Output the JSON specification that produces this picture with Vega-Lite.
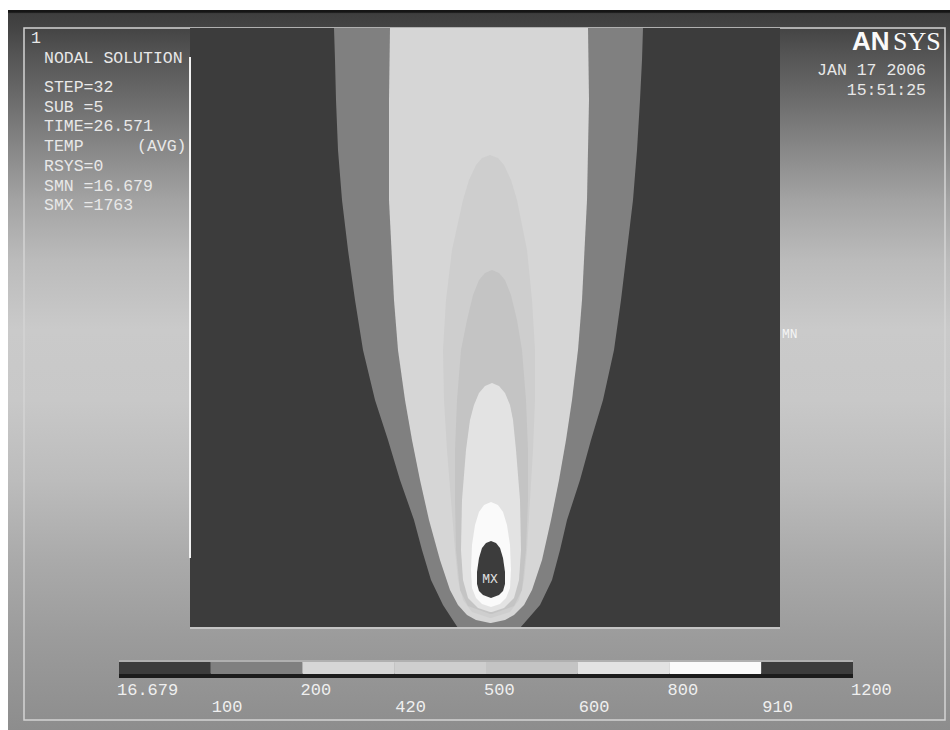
{
  "$schema": "https://vega.github.io/schema/vega-lite/v6.json",
  "width": 950,
  "height": 730,
  "autosize": {"type": "none"},
  "padding": 0,
  "background": "#ffffff",
  "config": {"view": {"stroke": null}, "axis": {"disable": true}},
  "datasets": {
    "screen": [{"x0": 8, "x1": 950, "y0": 10, "y1": 730}],
    "border": [{"x0": 24, "x1": 945, "y0": 28, "y1": 720}],
    "plate": [{"b": "16.679-100", "x0": 190, "x1": 780, "y0": 28, "y1": 628}],
    "edgeBottom": [{"x0": 190, "x1": 780, "y": 628}],
    "edgeLeft": [{"x": 190, "y0": 57, "y1": 558}],
    "contour": [
      {"b": "100-200", "y": 28, "xl": 334, "xr": 643},
      {"b": "100-200", "y": 60, "xl": 335, "xr": 642},
      {"b": "100-200", "y": 100, "xl": 336, "xr": 640},
      {"b": "100-200", "y": 150, "xl": 338, "xr": 637},
      {"b": "100-200", "y": 200, "xl": 342, "xr": 633},
      {"b": "100-200", "y": 250, "xl": 348, "xr": 627},
      {"b": "100-200", "y": 300, "xl": 355, "xr": 621},
      {"b": "100-200", "y": 350, "xl": 363, "xr": 614},
      {"b": "100-200", "y": 400, "xl": 375, "xr": 603},
      {"b": "100-200", "y": 440, "xl": 388, "xr": 591},
      {"b": "100-200", "y": 480, "xl": 400, "xr": 580},
      {"b": "100-200", "y": 520, "xl": 414, "xr": 567},
      {"b": "100-200", "y": 550, "xl": 422, "xr": 560},
      {"b": "100-200", "y": 580, "xl": 431, "xr": 552},
      {"b": "100-200", "y": 605, "xl": 443, "xr": 540},
      {"b": "100-200", "y": 628, "xl": 458, "xr": 520},
      {"b": "200-420", "y": 28, "xl": 390, "xr": 588},
      {"b": "200-420", "y": 100, "xl": 389, "xr": 589},
      {"b": "200-420", "y": 200, "xl": 389, "xr": 587},
      {"b": "200-420", "y": 300, "xl": 394, "xr": 582},
      {"b": "200-420", "y": 350, "xl": 398, "xr": 578},
      {"b": "200-420", "y": 400, "xl": 405, "xr": 572},
      {"b": "200-420", "y": 440, "xl": 412, "xr": 566},
      {"b": "200-420", "y": 480, "xl": 420, "xr": 559},
      {"b": "200-420", "y": 520, "xl": 429, "xr": 551},
      {"b": "200-420", "y": 560, "xl": 440, "xr": 542},
      {"b": "200-420", "y": 590, "xl": 450, "xr": 532},
      {"b": "200-420", "y": 605, "xl": 458, "xr": 524},
      {"b": "200-420", "y": 615, "xl": 467, "xr": 514},
      {"b": "200-420", "y": 620, "xl": 476, "xr": 505},
      {"b": "200-420", "y": 623, "xl": 490, "xr": 491},
      {"b": "420-500", "y": 155, "xl": 490, "xr": 490},
      {"b": "420-500", "y": 158, "xl": 482, "xr": 498},
      {"b": "420-500", "y": 165, "xl": 476, "xr": 504},
      {"b": "420-500", "y": 180, "xl": 469, "xr": 511},
      {"b": "420-500", "y": 200, "xl": 463, "xr": 517},
      {"b": "420-500", "y": 250, "xl": 452, "xr": 527},
      {"b": "420-500", "y": 300, "xl": 446, "xr": 532},
      {"b": "420-500", "y": 350, "xl": 443, "xr": 535},
      {"b": "420-500", "y": 400, "xl": 444, "xr": 535},
      {"b": "420-500", "y": 450, "xl": 447, "xr": 533},
      {"b": "420-500", "y": 500, "xl": 451, "xr": 530},
      {"b": "420-500", "y": 550, "xl": 455, "xr": 527},
      {"b": "420-500", "y": 580, "xl": 458, "xr": 524},
      {"b": "420-500", "y": 600, "xl": 463, "xr": 519},
      {"b": "420-500", "y": 612, "xl": 472, "xr": 510},
      {"b": "420-500", "y": 618, "xl": 490, "xr": 491},
      {"b": "500-600", "y": 270, "xl": 492, "xr": 492},
      {"b": "500-600", "y": 273, "xl": 485, "xr": 499},
      {"b": "500-600", "y": 280, "xl": 479, "xr": 505},
      {"b": "500-600", "y": 295, "xl": 473, "xr": 511},
      {"b": "500-600", "y": 320, "xl": 467, "xr": 517},
      {"b": "500-600", "y": 350, "xl": 461, "xr": 522},
      {"b": "500-600", "y": 400, "xl": 457, "xr": 526},
      {"b": "500-600", "y": 450, "xl": 455, "xr": 528},
      {"b": "500-600", "y": 500, "xl": 455, "xr": 528},
      {"b": "500-600", "y": 550, "xl": 456, "xr": 526},
      {"b": "500-600", "y": 590, "xl": 460, "xr": 522},
      {"b": "500-600", "y": 606, "xl": 468, "xr": 514},
      {"b": "500-600", "y": 614, "xl": 490, "xr": 492},
      {"b": "600-800", "y": 383, "xl": 492, "xr": 492},
      {"b": "600-800", "y": 386, "xl": 485, "xr": 499},
      {"b": "600-800", "y": 393, "xl": 479, "xr": 505},
      {"b": "600-800", "y": 405, "xl": 474, "xr": 510},
      {"b": "600-800", "y": 420, "xl": 470, "xr": 513},
      {"b": "600-800", "y": 450, "xl": 466, "xr": 516},
      {"b": "600-800", "y": 500, "xl": 462, "xr": 520},
      {"b": "600-800", "y": 550, "xl": 461, "xr": 521},
      {"b": "600-800", "y": 580, "xl": 463, "xr": 519},
      {"b": "600-800", "y": 598, "xl": 468, "xr": 514},
      {"b": "600-800", "y": 608, "xl": 478, "xr": 504},
      {"b": "600-800", "y": 612, "xl": 490, "xr": 492},
      {"b": "800-910", "y": 502, "xl": 491, "xr": 491},
      {"b": "800-910", "y": 505, "xl": 484, "xr": 498},
      {"b": "800-910", "y": 512, "xl": 479, "xr": 503},
      {"b": "800-910", "y": 525, "xl": 475, "xr": 507},
      {"b": "800-910", "y": 545, "xl": 472, "xr": 510},
      {"b": "800-910", "y": 570, "xl": 471, "xr": 511},
      {"b": "800-910", "y": 588, "xl": 472, "xr": 510},
      {"b": "800-910", "y": 598, "xl": 476, "xr": 506},
      {"b": "800-910", "y": 604, "xl": 482, "xr": 500},
      {"b": "800-910", "y": 607, "xl": 491, "xr": 491},
      {"b": "910-1200", "y": 541, "xl": 491, "xr": 491},
      {"b": "910-1200", "y": 543, "xl": 486, "xr": 496},
      {"b": "910-1200", "y": 548, "xl": 482, "xr": 500},
      {"b": "910-1200", "y": 558, "xl": 479, "xr": 503},
      {"b": "910-1200", "y": 572, "xl": 477, "xr": 505},
      {"b": "910-1200", "y": 584, "xl": 477, "xr": 505},
      {"b": "910-1200", "y": 591, "xl": 479, "xr": 503},
      {"b": "910-1200", "y": 595, "xl": 483, "xr": 499},
      {"b": "910-1200", "y": 598, "xl": 491, "xr": 491}
    ],
    "info": [
      {"t": "1", "x": 31, "y": 43},
      {"t": "NODAL SOLUTION", "x": 44, "y": 63},
      {"t": "STEP=32", "x": 44, "y": 92},
      {"t": "SUB =5", "x": 44, "y": 112},
      {"t": "TIME=26.571", "x": 44, "y": 131},
      {"t": "TEMP", "x": 44, "y": 151},
      {"t": "(AVG)", "x": 137, "y": 151},
      {"t": "RSYS=0", "x": 44, "y": 171},
      {"t": "SMN =16.679", "x": 44, "y": 191},
      {"t": "SMX =1763", "x": 44, "y": 210}
    ],
    "stamp": [
      {"t": "JAN 17 2006", "x": 926, "y": 75},
      {"t": "15:51:25", "x": 926, "y": 95}
    ],
    "logoA": [{"t": "AN", "x": 852, "y": 50}],
    "logoB": [{"t": "SYS", "x": 893, "y": 50}],
    "mx": [{"t": "MX", "x": 490, "y": 583}],
    "mn": [{"t": "MN", "x": 782, "y": 338}],
    "bar": [
      {"b": "16.679-100", "i0": 0, "i1": 1},
      {"b": "100-200", "i0": 1, "i1": 2},
      {"b": "200-420", "i0": 2, "i1": 3},
      {"b": "420-500", "i0": 3, "i1": 4},
      {"b": "500-600", "i0": 4, "i1": 5},
      {"b": "600-800", "i0": 5, "i1": 6},
      {"b": "800-910", "i0": 6, "i1": 7},
      {"b": "910-1200", "i0": 7, "i1": 8}
    ],
    "barAll": [{"i0": 0, "i1": 8}],
    "ticksTop": [
      {"l": "16.679", "i": 0},
      {"l": "200", "i": 2},
      {"l": "500", "i": 4},
      {"l": "800", "i": 6},
      {"l": "1200", "i": 8}
    ],
    "ticksBottom": [
      {"l": "100", "i": 1},
      {"l": "420", "i": 3},
      {"l": "600", "i": 5},
      {"l": "910", "i": 7}
    ]
  },
  "layer": [
    {
      "layer": [
        {
          "data": {"name": "screen"},
          "mark": {
            "type": "rect",
            "fill": {
              "gradient": "linear",
              "x1": 0, "y1": 0, "x2": 0, "y2": 1,
              "stops": [
                {"offset": 0, "color": "#151515"},
                {"offset": 0.003, "color": "#151515"},
                {"offset": 0.005, "color": "#3e3e3e"},
                {"offset": 0.025, "color": "#444444"},
                {"offset": 0.056, "color": "#525252"},
                {"offset": 0.125, "color": "#6c6c6c"},
                {"offset": 0.194, "color": "#888888"},
                {"offset": 0.264, "color": "#a3a3a3"},
                {"offset": 0.347, "color": "#bbbbbb"},
                {"offset": 0.444, "color": "#cacaca"},
                {"offset": 0.542, "color": "#c8c8c8"},
                {"offset": 0.653, "color": "#bcbcbc"},
                {"offset": 0.764, "color": "#aaaaaa"},
                {"offset": 0.875, "color": "#9b9b9b"},
                {"offset": 1, "color": "#8d8d8d"}
              ]
            }
          },
          "encoding": {
            "x": {"field": "x0", "type": "quantitative", "scale": {"domain": [0, 950], "nice": false, "zero": false}},
            "x2": {"field": "x1"},
            "y": {"field": "y0", "type": "quantitative", "scale": {"domain": [0, 730], "reverse": true, "nice": false, "zero": false}},
            "y2": {"field": "y1"}
          }
        },
        {
          "data": {"name": "border"},
          "mark": {"type": "rect", "filled": false, "stroke": "#d4d4d4", "strokeWidth": 1.5},
          "encoding": {
            "x": {"field": "x0", "type": "quantitative"},
            "x2": {"field": "x1"},
            "y": {"field": "y0", "type": "quantitative"},
            "y2": {"field": "y1"}
          }
        },
        {
          "data": {"name": "plate"},
          "mark": {"type": "rect"},
          "encoding": {
            "x": {"field": "x0", "type": "quantitative"},
            "x2": {"field": "x1"},
            "y": {"field": "y0", "type": "quantitative"},
            "y2": {"field": "y1"},
            "color": {"field": "b", "type": "nominal", "legend": null,
              "scale": {
                "domain": ["16.679-100", "100-200", "200-420", "420-500", "500-600", "600-800", "800-910", "910-1200"],
                "range": ["#3c3c3c", "#808080", "#d6d6d6", "#cecece", "#c4c4c4", "#e3e3e3", "#fafafa", "#3c3c3c"]
              }
            }
          }
        },
        {
          "data": {"name": "contour"},
          "transform": [{"filter": "datum.b === '100-200'"}],
          "mark": {"type": "area", "orient": "horizontal"},
          "encoding": {
            "y": {"field": "y", "type": "quantitative"},
            "x": {"field": "xl", "type": "quantitative", "stack": null},
            "x2": {"field": "xr"},
            "color": {"field": "b", "type": "nominal", "legend": null}
          }
        },
        {
          "data": {"name": "contour"},
          "transform": [{"filter": "datum.b === '200-420'"}],
          "mark": {"type": "area", "orient": "horizontal"},
          "encoding": {
            "y": {"field": "y", "type": "quantitative"},
            "x": {"field": "xl", "type": "quantitative", "stack": null},
            "x2": {"field": "xr"},
            "color": {"field": "b", "type": "nominal", "legend": null}
          }
        },
        {
          "data": {"name": "contour"},
          "transform": [{"filter": "datum.b === '420-500'"}],
          "mark": {"type": "area", "orient": "horizontal"},
          "encoding": {
            "y": {"field": "y", "type": "quantitative"},
            "x": {"field": "xl", "type": "quantitative", "stack": null},
            "x2": {"field": "xr"},
            "color": {"field": "b", "type": "nominal", "legend": null}
          }
        },
        {
          "data": {"name": "contour"},
          "transform": [{"filter": "datum.b === '500-600'"}],
          "mark": {"type": "area", "orient": "horizontal"},
          "encoding": {
            "y": {"field": "y", "type": "quantitative"},
            "x": {"field": "xl", "type": "quantitative", "stack": null},
            "x2": {"field": "xr"},
            "color": {"field": "b", "type": "nominal", "legend": null}
          }
        },
        {
          "data": {"name": "contour"},
          "transform": [{"filter": "datum.b === '600-800'"}],
          "mark": {"type": "area", "orient": "horizontal"},
          "encoding": {
            "y": {"field": "y", "type": "quantitative"},
            "x": {"field": "xl", "type": "quantitative", "stack": null},
            "x2": {"field": "xr"},
            "color": {"field": "b", "type": "nominal", "legend": null}
          }
        },
        {
          "data": {"name": "contour"},
          "transform": [{"filter": "datum.b === '800-910'"}],
          "mark": {"type": "area", "orient": "horizontal"},
          "encoding": {
            "y": {"field": "y", "type": "quantitative"},
            "x": {"field": "xl", "type": "quantitative", "stack": null},
            "x2": {"field": "xr"},
            "color": {"field": "b", "type": "nominal", "legend": null}
          }
        },
        {
          "data": {"name": "contour"},
          "transform": [{"filter": "datum.b === '910-1200'"}],
          "mark": {"type": "area", "orient": "horizontal"},
          "encoding": {
            "y": {"field": "y", "type": "quantitative"},
            "x": {"field": "xl", "type": "quantitative", "stack": null},
            "x2": {"field": "xr"},
            "color": {"field": "b", "type": "nominal", "legend": null}
          }
        },
        {
          "data": {"name": "edgeBottom"},
          "mark": {"type": "rule", "color": "#c4c4c4", "strokeWidth": 2},
          "encoding": {
            "x": {"field": "x0", "type": "quantitative"},
            "x2": {"field": "x1"},
            "y": {"field": "y", "type": "quantitative"}
          }
        },
        {
          "data": {"name": "edgeLeft"},
          "mark": {"type": "rule", "color": "#f2f2f2", "strokeWidth": 2},
          "encoding": {
            "x": {"field": "x", "type": "quantitative"},
            "y": {"field": "y0", "type": "quantitative"},
            "y2": {"field": "y1"}
          }
        },
        {
          "data": {"name": "info"},
          "mark": {"type": "text", "font": "Liberation Mono", "fontSize": 16.5, "align": "left", "baseline": "alphabetic", "color": "#e8e8e8"},
          "encoding": {
            "x": {"field": "x", "type": "quantitative"},
            "y": {"field": "y", "type": "quantitative"},
            "text": {"field": "t"}
          }
        },
        {
          "data": {"name": "stamp"},
          "mark": {"type": "text", "font": "Liberation Mono", "fontSize": 16.5, "align": "right", "baseline": "alphabetic", "color": "#e8e8e8"},
          "encoding": {
            "x": {"field": "x", "type": "quantitative"},
            "y": {"field": "y", "type": "quantitative"},
            "text": {"field": "t"}
          }
        },
        {
          "data": {"name": "logoA"},
          "mark": {"type": "text", "font": "Liberation Sans", "fontWeight": "bold", "fontSize": 26, "align": "left", "baseline": "alphabetic", "color": "#fafafa"},
          "encoding": {
            "x": {"field": "x", "type": "quantitative"},
            "y": {"field": "y", "type": "quantitative"},
            "text": {"field": "t"}
          }
        },
        {
          "data": {"name": "logoB"},
          "mark": {"type": "text", "font": "Liberation Serif", "fontSize": 26, "align": "left", "baseline": "alphabetic", "color": "#fafafa"},
          "encoding": {
            "x": {"field": "x", "type": "quantitative"},
            "y": {"field": "y", "type": "quantitative"},
            "text": {"field": "t"}
          }
        },
        {
          "data": {"name": "mx"},
          "mark": {"type": "text", "font": "Liberation Mono", "fontSize": 13, "align": "center", "baseline": "alphabetic", "color": "#e0e0e0"},
          "encoding": {
            "x": {"field": "x", "type": "quantitative"},
            "y": {"field": "y", "type": "quantitative"},
            "text": {"field": "t"}
          }
        },
        {
          "data": {"name": "mn"},
          "mark": {"type": "text", "font": "Liberation Mono", "fontSize": 13, "align": "left", "baseline": "alphabetic", "color": "#f4f4f4"},
          "encoding": {
            "x": {"field": "x", "type": "quantitative"},
            "y": {"field": "y", "type": "quantitative"},
            "text": {"field": "t"}
          }
        }
      ]
    },
    {
      "layer": [
        {
          "data": {"name": "barAll"},
          "mark": {"type": "rect", "color": "#b0b0b0"},
          "encoding": {
            "x": {"field": "i0", "type": "quantitative", "scale": {"domain": [0, 8], "range": [119, 853], "nice": false, "zero": false}},
            "x2": {"field": "i1"},
            "y": {"datum": 660, "type": "quantitative"},
            "y2": {"datum": 663}
          }
        },
        {
          "data": {"name": "barAll"},
          "mark": {"type": "rect", "color": "#1c1c1c"},
          "encoding": {
            "x": {"field": "i0", "type": "quantitative"},
            "x2": {"field": "i1"},
            "y": {"datum": 673, "type": "quantitative"},
            "y2": {"datum": 678}
          }
        },
        {
          "data": {"name": "bar"},
          "mark": {"type": "rect"},
          "encoding": {
            "x": {"field": "i0", "type": "quantitative"},
            "x2": {"field": "i1"},
            "y": {"datum": 662, "type": "quantitative"},
            "y2": {"datum": 674},
            "color": {"field": "b", "type": "nominal", "legend": null}
          }
        },
        {
          "data": {"name": "ticksTop"},
          "mark": {"type": "text", "font": "Liberation Mono", "fontSize": 17, "align": "left", "baseline": "alphabetic", "dx": -2, "color": "#efefef"},
          "encoding": {
            "x": {"field": "i", "type": "quantitative"},
            "y": {"datum": 695, "type": "quantitative"},
            "text": {"field": "l"}
          }
        },
        {
          "data": {"name": "ticksBottom"},
          "mark": {"type": "text", "font": "Liberation Mono", "fontSize": 17, "align": "left", "baseline": "alphabetic", "dx": 1, "color": "#efefef"},
          "encoding": {
            "x": {"field": "i", "type": "quantitative"},
            "y": {"datum": 712, "type": "quantitative"},
            "text": {"field": "l"}
          }
        }
      ]
    }
  ],
  "resolve": {"scale": {"x": "independent"}}
}
